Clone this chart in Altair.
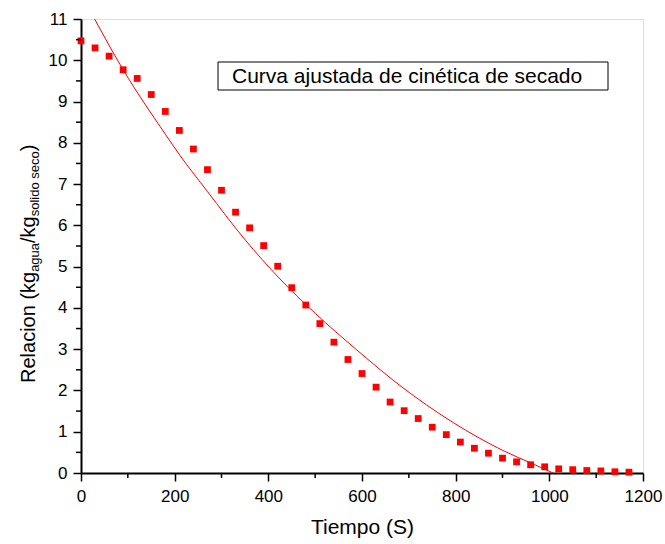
import altair as alt
import pandas as pd

# ---------------- data ----------------
tiempo = [0, 30, 60, 90, 120, 150, 180, 210, 240, 270, 300, 330, 360, 390, 420,
          450, 480, 510, 540, 570, 600, 630, 660, 690, 720, 750, 780, 810, 840,
          870, 900, 930, 960, 990, 1020, 1050, 1080, 1110, 1140, 1170]
relacion = [10.47, 10.30, 10.10, 9.77, 9.56, 9.17, 8.76, 8.30, 7.85, 7.35, 6.85,
            6.32, 5.94, 5.51, 5.01, 4.49, 4.07, 3.62, 3.17, 2.75, 2.41, 2.08,
            1.72, 1.51, 1.32, 1.11, 0.93, 0.75, 0.60, 0.48, 0.36, 0.27, 0.20,
            0.15, 0.10, 0.08, 0.06, 0.05, 0.03, 0.02]

curva_t = [29, 90, 180, 211, 270, 349, 425, 500, 587, 681, 795, 900, 969, 1008]
curva_y = [11.0, 9.77, 8.21, 7.70, 6.82, 5.67, 4.70, 3.87, 3.00, 2.12, 1.22, 0.55, 0.20, 0.0]

y_major = [0, 1, 2, 3, 4, 5, 6, 7, 8, 9, 10, 11]
y_minor = [0.5, 1.5, 2.5, 3.5, 4.5, 5.5, 6.5, 7.5, 8.5, 9.5, 10.5]
x_major = [0, 200, 400, 600, 800, 1000, 1200]
x_minor = [100, 300, 500, 700, 900, 1100]

legend_text = "Curva ajustada de cinética de secado"
x_title = "Tiempo (S)"
y_title_parts = [("Relacion (kg", False), ("agua", True), ("/kg", False),
                 ("solido seco", True), (")", False)]

# ---------------- layout ----------------
W, H = 562, 454
FONT = "Liberation Sans"
RED = "#ff0000"

xscale = alt.Scale(domain=[0, 1200], nice=False, zero=False)
yscale = alt.Scale(domain=[0, 11], nice=False, zero=False)

xaxis = alt.Axis(values=x_major, format="d", title=x_title, tickSize=8, tickWidth=1.5,
                 domainWidth=2, domainColor="black", tickColor="black",
                 labelFont=FONT, labelFontSize=17, labelColor="black",
                 labelPadding=7, labelFlush=False, labelOverlap=False,
                 titleFont=FONT, titleFontSize=21, titleFontWeight="normal",
                 titleColor="black", titleBaseline="alphabetic",
                 titleY=60, titleX=W / 2, titleAlign="center", grid=False)
yaxis = alt.Axis(values=y_major, format="d", title=None, tickSize=8, tickWidth=1.5,
                 domainWidth=2, domainColor="black", tickColor="black",
                 labelFont=FONT, labelFontSize=17, labelColor="black",
                 labelPadding=6, labelFlush=False, labelOverlap=False, grid=False)

X = lambda f: alt.X(f, type="quantitative", scale=xscale, axis=xaxis)
Y = lambda f: alt.Y(f, type="quantitative", scale=yscale, axis=yaxis)

pts = alt.Chart(pd.DataFrame({"t": tiempo, "r": relacion})).mark_square(
    size=46, color=RED, opacity=1, filled=True
).encode(x=X("t"), y=Y("r"))

curve = alt.Chart(pd.DataFrame({"t": curva_t, "r": curva_y})).mark_line(
    color=RED, strokeWidth=1, interpolate="monotone"
).encode(x=X("t"), y=Y("r"))

ymin_ticks = alt.Chart(pd.DataFrame({"v": y_minor})).mark_rule(
    color="black", strokeWidth=1.5
).encode(y=Y("v"), x=alt.value(-5), x2=alt.value(0))

xmin_ticks = alt.Chart(pd.DataFrame({"v": x_minor})).mark_rule(
    color="black", strokeWidth=1.5
).encode(x=X("v"), y=alt.value(H), y2=alt.value(H + 5))

one = pd.DataFrame({"k": [0]})

legend_box = alt.Chart(one).mark_rect(
    fill="white", stroke="black", strokeWidth=1
).encode(x=alt.value(137), x2=alt.value(527), y=alt.value(43), y2=alt.value(71))

legend_lbl = alt.Chart(one).mark_text(
    font=FONT, fontSize=21, color="black", align="left", baseline="alphabetic"
).encode(x=alt.value(151), y=alt.value(64), text=alt.value(legend_text))

# y title with subscripts, pieces stacked bottom-to-top
ARIAL = {"R": 722, "e": 556, "l": 222, "a": 556, "c": 500, "i": 222, "o": 556,
         "n": 556, " ": 278, "(": 333, ")": 333, "k": 500, "g": 556, "u": 556,
         "/": 278, "s": 500, "d": 556}
MAIN_FS, SUB_FS = 20, 13
MAIN_X, SUB_X = -46, -42
ypos = 364.0
title_layers = []
for txt, sub in y_title_parts:
    fs = SUB_FS if sub else MAIN_FS
    title_layers.append(
        alt.Chart(one).mark_text(
            font=FONT, fontSize=fs, color="black", align="left",
            baseline="alphabetic", angle=270
        ).encode(x=alt.value(SUB_X if sub else MAIN_X), y=alt.value(ypos),
                 text=alt.value(txt))
    )
    ypos -= sum(ARIAL[c] for c in txt) / 1000.0 * fs

chart = alt.layer(
    curve, pts, ymin_ticks, xmin_ticks, legend_box, legend_lbl, *title_layers
).properties(
    width=W, height=H,
    padding={"left": 81, "top": 19, "right": 22, "bottom": 71},
    autosize=alt.AutoSizeParams(type="none"),
).configure_view(
    stroke="black", strokeWidth=2
).configure(background="white")

chart.save("out.html", embed_options={"renderer": "svg", "actions": False})
